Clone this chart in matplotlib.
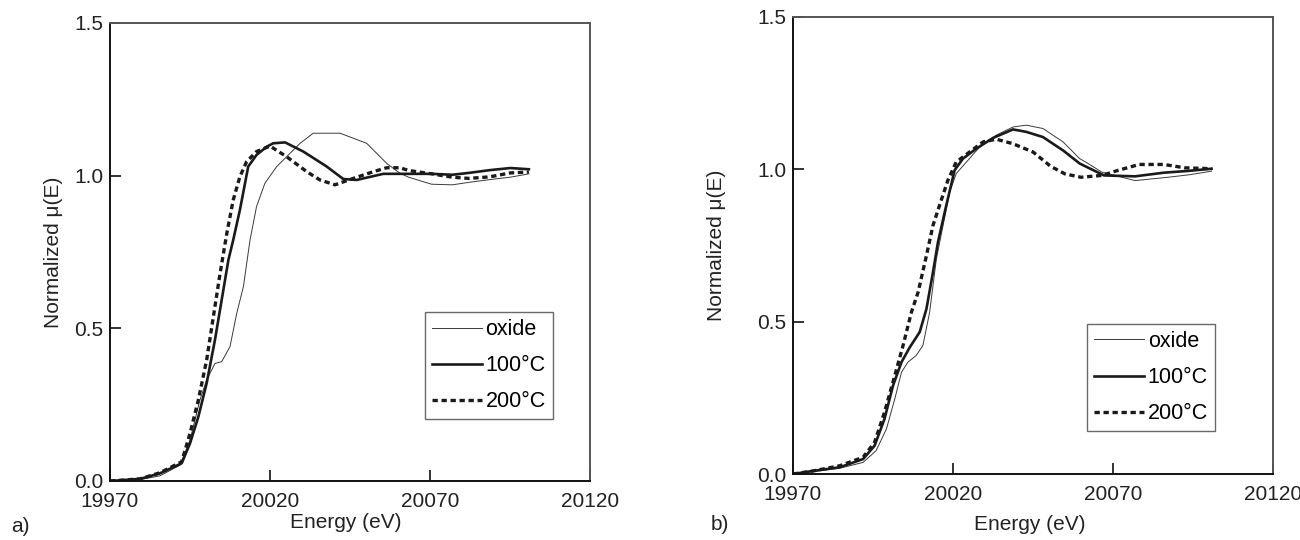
import matplotlib.pyplot as plt
import numpy as np

plt.rcParams['font.family'] = ['Liberation Sans', 'DejaVu Sans']

# ---- panel a) ----
a_oxide_E = [19970, 19979.7, 19985.6, 19991.9, 19995.0, 19998.1, 20000.2, 20002.8, 20004.9,
             20007.5, 20009.6, 20011.7, 20013.75, 20015.8, 20018.4, 20022.1, 20026.25, 20029.4,
             20033.5, 20041.9, 20050.2, 20056.5, 20060.6, 20063.3, 20070.5, 20077.0, 20082.1,
             20088.6, 20095.1, 20100.9]
a_oxide_mu = [0.0, 0.005, 0.017, 0.052, 0.134, 0.265, 0.331, 0.385, 0.391,
              0.44, 0.549, 0.637, 0.789, 0.899, 0.975, 1.03, 1.073, 1.106,
              1.139, 1.139, 1.106, 1.04, 1.008, 0.995, 0.972, 0.970, 0.978,
              0.987, 0.995, 1.006]

a_100_E = [19970, 19979.4, 19985.6, 19992.4, 19995.0, 19997.6, 20000.2, 20002.8, 20004.9,
           20007.0, 20008.5, 20010.6, 20013.2, 20015.8, 20019.0, 20021.0, 20024.7, 20030.4,
           20037.7, 20042.9, 20047.1, 20055.4, 20060.6, 20070.5, 20077.0, 20082.1, 20088.6,
           20095.1, 20100.9]
a_100_mu = [0.0, 0.007, 0.025, 0.058, 0.123, 0.21, 0.32, 0.462, 0.593,
            0.724, 0.789, 0.888, 1.03, 1.068, 1.095, 1.106, 1.109, 1.079,
            1.03, 0.989, 0.986, 1.006, 1.006, 1.006, 1.003, 1.009, 1.018,
            1.025, 1.021]

a_200_E = [19970, 19979.4, 19985.6, 19992.4, 19995.0, 19997.6, 20000.2, 20002.3, 20004.4,
           20006.5, 20008.5, 20010.6, 20012.7, 20015.8, 20020.0, 20025.2, 20031.5, 20035.6,
           20040.3, 20046.0, 20052.3, 20056.5, 20060.6, 20063.3, 20070.5, 20077.0, 20082.1,
           20088.6, 20095.1, 20100.9]
a_200_mu = [0.0, 0.007, 0.027, 0.063, 0.156, 0.265, 0.396, 0.538, 0.68,
            0.811, 0.92, 0.997, 1.046, 1.079, 1.097, 1.062, 1.013, 0.986,
            0.970, 0.991, 1.013, 1.026, 1.026, 1.017, 1.006, 0.995, 0.991,
            0.996, 1.009, 1.012]

# ---- panel b) ----
b_oxide_E = [19970, 19976.25, 19984.6, 19991.9, 19996.0, 19999.2, 20001.8, 20003.9, 20005.9,
             20008.5, 20010.6, 20012.7, 20014.8, 20016.9, 20019.0, 20021.0, 20024.2, 20028.3,
             20033.5, 20038.75, 20042.9, 20048.1, 20054.4, 20059.6, 20061.3, 20066.5, 20076.9,
             20087.2, 20093.7, 20100.8]
b_oxide_mu = [0.0, 0.008, 0.019, 0.038, 0.077, 0.148, 0.246, 0.334, 0.367,
              0.389, 0.422, 0.531, 0.706, 0.816, 0.926, 0.986, 1.024, 1.073,
              1.112, 1.139, 1.145, 1.134, 1.09, 1.035, 1.025, 0.991, 0.963,
              0.974, 0.982, 0.994]

b_100_E = [19970, 19976.25, 19984.6, 19991.9, 19995.5, 19998.6, 20001.25, 20003.9, 20006.5,
           20009.6, 20011.7, 20013.75, 20015.3, 20017.9, 20020.5, 20023.1, 20027.3, 20032.5,
           20038.75, 20042.9, 20048.1, 20054.4, 20059.6, 20067.2, 20076.9, 20085.9, 20093.7,
           20100.8]
b_100_mu = [0.0, 0.01, 0.022, 0.049, 0.093, 0.181, 0.29, 0.367, 0.416,
            0.466, 0.542, 0.663, 0.761, 0.882, 0.997, 1.035, 1.068, 1.103,
            1.131, 1.123, 1.106, 1.062, 1.019, 0.98, 0.977, 0.989, 0.995,
            1.002]

b_200_E = [19970, 19976.25, 19984.6, 19991.9, 19995.5, 19998.6, 20001.8, 20004.4, 20007.0,
           20009.1, 20011.7, 20013.75, 20015.8, 20018.4, 20021.0, 20025.2, 20029.4, 20033.5,
           20038.75, 20045.0, 20050.5, 20055.0, 20060.0, 20066.5, 20071.7, 20078.2, 20085.9,
           20092.4, 20100.8]
b_200_mu = [0.0, 0.01, 0.027, 0.055, 0.104, 0.203, 0.323, 0.422, 0.531,
            0.597, 0.717, 0.816, 0.882, 0.964, 1.024, 1.057, 1.09, 1.099,
            1.084, 1.057, 1.01, 0.985, 0.974, 0.98, 0.997, 1.016, 1.016,
            1.005, 1.002]

labels = ['oxide', '100°C', '200°C']
xticks = [19970, 20020, 20070, 20120]
yticks = [0.0, 0.5, 1.0, 1.5]


def draw_panel(ax, series, legend_anchor):
    (Eo, mo), (E1, m1), (E2, m2) = series
    ax.plot(Eo, mo, color='#3a3a3a', lw=0.7, label=labels[0])
    ax.plot(E1, m1, color='#1a1a1a', lw=1.9, label=labels[1])
    ax.plot(E2, m2, color='#1a1a1a', lw=2.4, dashes=(1.6, 1.1), label=labels[2])

    ax.set_xlim(19970, 20120)
    ax.set_ylim(0.0, 1.5)
    ax.set_xticks(xticks)
    ax.set_yticks(yticks)
    ax.set_yticklabels([f'{v:.1f}' for v in yticks])
    ax.tick_params(direction='in', length=8, width=1.3, labelsize=15, colors='#222222')
    ax.tick_params(axis='x', pad=8)
    ax.tick_params(axis='y', pad=5)
    for side in ['left', 'bottom']:
        ax.spines[side].set_color('#111111')
        ax.spines[side].set_linewidth(1.4)
    for side in ['top', 'right']:
        ax.spines[side].set_color('#555555')
        ax.spines[side].set_linewidth(1.4)

    leg = ax.legend(loc='lower left', bbox_to_anchor=legend_anchor, fontsize=15.5,
                    frameon=True, fancybox=False, edgecolor='#444444',
                    handlelength=2.35, handletextpad=0.15, labelspacing=0.7,
                    borderpad=0.32, borderaxespad=0)
    leg.get_frame().set_linewidth(1.0)


fig = plt.figure(figsize=(13, 5.4), dpi=100)

ax_a = fig.add_axes([110 / 1300, 1 - 481 / 540, 480 / 1300, 458 / 540])
draw_panel(ax_a, [(a_oxide_E, a_oxide_mu), (a_100_E, a_100_mu), (a_200_E, a_200_mu)],
           (0.656, 0.135))
ax_a.set_xlabel('Energy (eV)', fontsize=15, color='#222222')
ax_a.set_ylabel('Normalized \u03bc(E)', fontsize=15, color='#222222')
ax_a.xaxis.set_label_coords(0.492, -0.07)
ax_a.yaxis.set_label_coords(-0.098, 0.5)

ax_b = fig.add_axes([793 / 1300, 1 - 474 / 540, 480 / 1300, 457 / 540])
draw_panel(ax_b, [(b_oxide_E, b_oxide_mu), (b_100_E, b_100_mu), (b_200_E, b_200_mu)],
           (0.6125, 0.094))
ax_b.set_xlabel('Energy (eV)', fontsize=15, color='#222222')
ax_b.set_ylabel('Normalized \u03bc(E)', fontsize=15, color='#222222')
ax_b.xaxis.set_label_coords(0.494, -0.09)
ax_b.yaxis.set_label_coords(-0.14, 0.5)

fig.text(20 / 1300, 1 - 527 / 540, 'a)', fontsize=15, color='#222222', ha='center', va='center')
fig.text(720 / 1300, 1 - 524 / 540, 'b)', fontsize=15, color='#222222', ha='center', va='center')

fig.savefig('out.png', dpi=100)
